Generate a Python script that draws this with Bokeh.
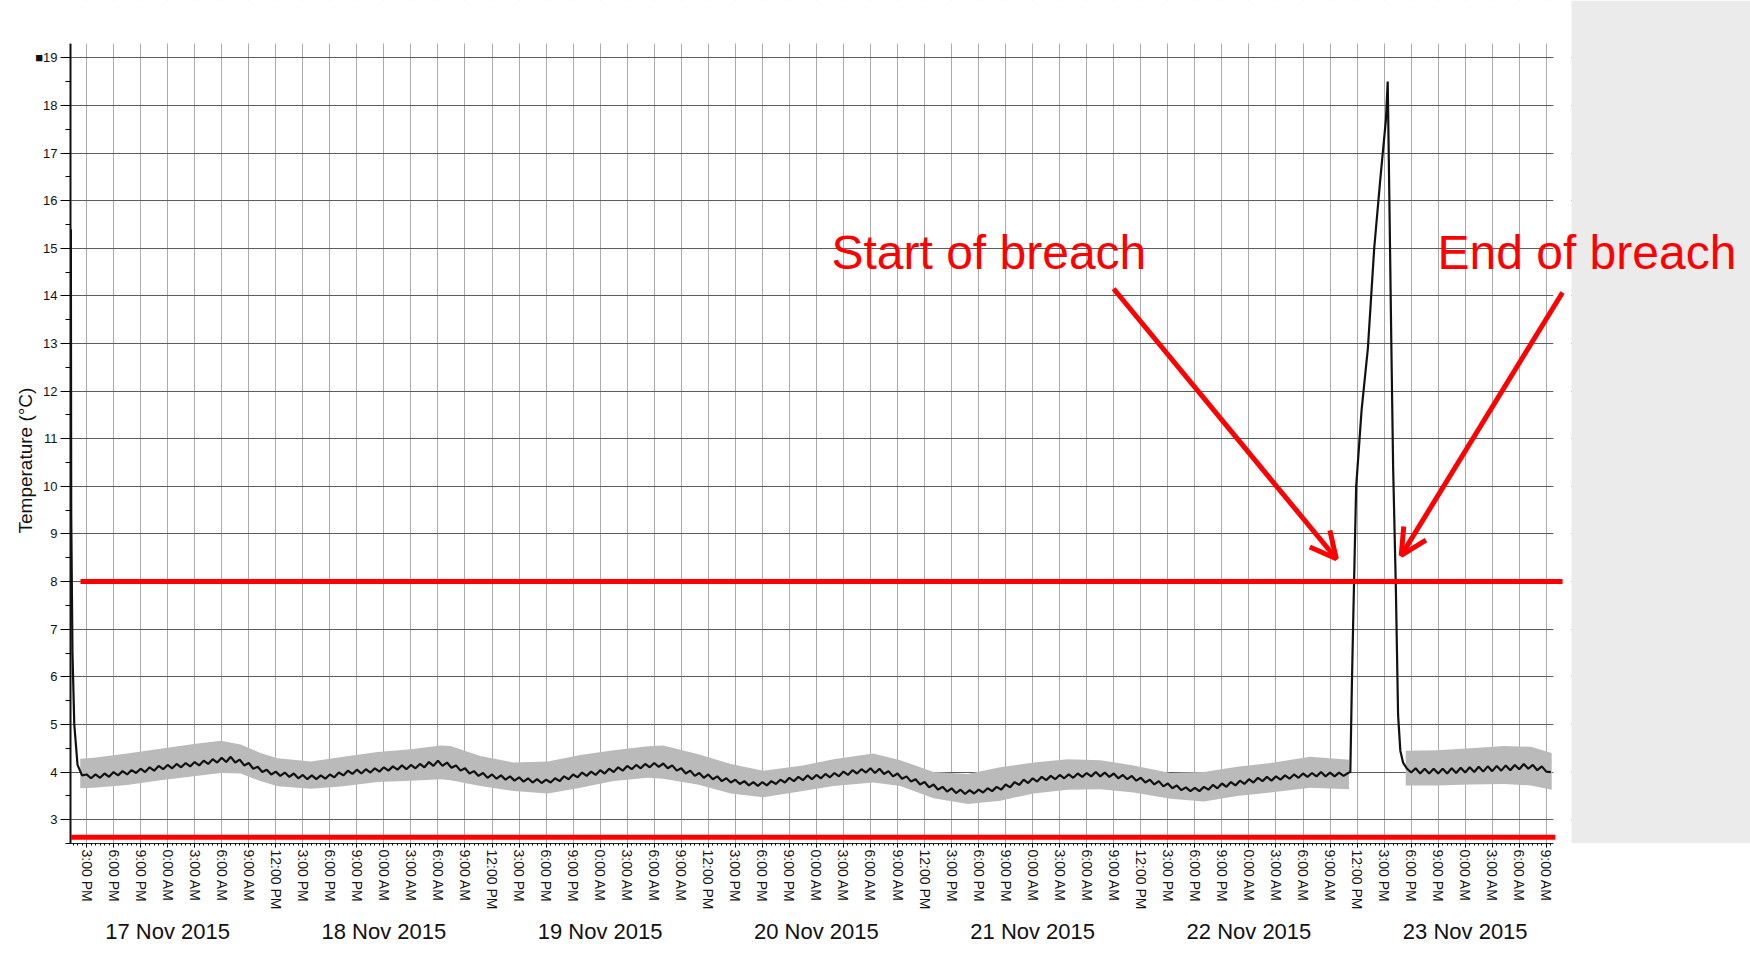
import numpy as np
from bokeh.plotting import figure
from bokeh.models import (FixedTicker, LinearAxis, Range1d, Arrow, OpenHead, Label,
                          BoxAnnotation, Title)
from bokeh.embed import file_html
from bokeh.resources import INLINE

# x values are hours after 16 Nov 2015 15:00 (the first "3:00 PM" tick)
day_tick_labels = ["3:00 PM", "6:00 PM", "9:00 PM", "0:00 AM", "3:00 AM", "6:00 AM", "9:00 AM", "12:00 PM"]
date_labels = ["17 Nov 2015", "18 Nov 2015", "19 Nov 2015", "20 Nov 2015",
               "21 Nov 2015", "22 Nov 2015", "23 Nov 2015"]
y_ticks = list(range(3, 20))

# start of logging: probe cools down
start_times = [-1.74, -1.70, -1.56, -1.36, -1.0, -0.5]
start_temps = [15.4, 9.4, 6.5, 5.0, 4.15, 3.93]

# half-hourly readings from t = 0 h to t = 140 h
logged_temps = [
    3.95, 3.87, 3.95, 3.88, 3.97, 3.90, 4.00, 3.93, 4.02, 3.95, 4.04, 3.98, 4.07, 4.00, 4.10, 4.03, 4.13, 4.06, 4.15, 4.08, 4.17, 4.10, 4.19, 4.12,
    4.21, 4.14, 4.24, 4.17, 4.27, 4.20, 4.30, 4.21, 4.32, 4.20, 4.26, 4.14, 4.19, 4.07, 4.11, 4.00, 4.05, 3.95, 4.01, 3.92, 3.99, 3.90, 3.97, 3.87,
    3.94, 3.85, 3.93, 3.85, 3.93, 3.86, 3.95, 3.89, 3.99, 3.93, 4.03, 3.96, 4.05, 3.97, 4.06, 3.99, 4.08, 4.01, 4.10, 4.03, 4.12, 4.05, 4.14, 4.06,
    4.15, 4.08, 4.17, 4.10, 4.21, 4.13, 4.24, 4.13, 4.20, 4.09, 4.14, 4.03, 4.08, 3.97, 4.02, 3.92, 3.98, 3.88, 3.95, 3.86, 3.93, 3.84, 3.91, 3.82,
    3.89, 3.80, 3.87, 3.78, 3.85, 3.77, 3.84, 3.78, 3.87, 3.81, 3.91, 3.85, 3.95, 3.89, 3.99, 3.92, 4.01, 3.94, 4.04, 3.97, 4.07, 4.00, 4.10, 4.03,
    4.13, 4.06, 4.15, 4.08, 4.17, 4.10, 4.19, 4.11, 4.18, 4.08, 4.14, 4.03, 4.08, 3.97, 4.03, 3.92, 3.98, 3.88, 3.95, 3.85, 3.91, 3.81, 3.87, 3.78,
    3.84, 3.75, 3.81, 3.72, 3.79, 3.71, 3.79, 3.72, 3.81, 3.75, 3.84, 3.78, 3.88, 3.81, 3.90, 3.83, 3.93, 3.85, 3.94, 3.87, 3.96, 3.89, 3.98, 3.91,
    4.01, 3.94, 4.04, 3.97, 4.06, 3.99, 4.08, 3.98, 4.07, 3.96, 4.02, 3.91, 3.97, 3.86, 3.91, 3.80, 3.85, 3.74, 3.79, 3.68, 3.74, 3.63, 3.69, 3.59,
    3.66, 3.56, 3.63, 3.54, 3.62, 3.55, 3.63, 3.57, 3.66, 3.60, 3.69, 3.63, 3.74, 3.68, 3.79, 3.73, 3.84, 3.77, 3.87, 3.80, 3.90, 3.83, 3.92, 3.85,
    3.94, 3.87, 3.95, 3.88, 3.97, 3.90, 3.98, 3.91, 4.00, 3.91, 3.99, 3.90, 3.97, 3.87, 3.94, 3.85, 3.92, 3.82, 3.88, 3.78, 3.84, 3.74, 3.81, 3.70,
    3.76, 3.66, 3.72, 3.62, 3.68, 3.60, 3.67, 3.60, 3.69, 3.63, 3.73, 3.66, 3.76, 3.69, 3.79, 3.72, 3.82, 3.75, 3.85, 3.78, 3.88, 3.81, 3.90, 3.82,
    3.91, 3.84, 3.93, 3.86, 3.95, 3.88, 3.97, 3.90, 3.98, 3.91, 4.00, 3.91, 3.99, 3.91, 3.99, 3.92, 3.98,
]

# the breach
spike_times = [140.25, 140.4, 140.55, 140.7, 140.9, 141.5, 142.2, 142.9, 143.6, 144.2, 144.4,
               144.6, 144.8, 145.0, 145.3, 145.55, 145.8, 146.1]
spike_temps = [4.0, 5.6, 7.0, 8.3, 10.0, 11.6, 12.9, 15.0, 16.5, 17.7, 18.5,
               15.8, 13.0, 10.4, 7.9, 5.2, 4.45, 4.2]

# half-hourly readings from t = 146.5 h to t = 162.5 h
after_temps = [4.08, 3.99, 4.08, 3.97, 4.07, 3.97, 4.07, 3.97, 4.07, 3.97, 4.08, 3.98, 4.09, 3.99,
               4.10, 4.00, 4.11, 4.01, 4.12, 4.02, 4.13, 4.03, 4.14, 4.04, 4.15, 4.06, 4.17, 4.07,
               4.15, 4.04, 4.12, 4.01, 4.00]

# min / max envelope (grey band)
band1_t = [-0.7, 0.8, 4.5, 8.2, 11.9, 14.9, 17.1, 19.3, 21.2, 24.9, 28.5, 32.3, 36.0, 39.3, 40.4,
           43.7, 47.4, 51.2, 54.8, 58.5, 62.3, 64.0, 67.8, 71.5, 75.1, 79.5, 82.9, 87.3, 90.3, 94.0,
           97.8, 101.4, 105.1, 108.9, 112.5, 116.2, 120.3, 124.0, 127.7, 131.4, 135.8, 140.1]
band1_hi = [4.28, 4.30, 4.39, 4.49, 4.59, 4.66, 4.58, 4.40, 4.29, 4.22, 4.32, 4.42, 4.48, 4.56, 4.55,
            4.34, 4.20, 4.22, 4.36, 4.46, 4.54, 4.56, 4.38, 4.17, 4.03, 4.14, 4.27, 4.39, 4.25, 4.00,
            3.96, 4.10, 4.20, 4.27, 4.25, 4.14, 3.98, 4.00, 4.11, 4.19, 4.32, 4.26]
band1_lo = [3.66, 3.67, 3.73, 3.83, 3.91, 3.98, 3.97, 3.81, 3.70, 3.65, 3.70, 3.79, 3.82, 3.85, 3.83,
            3.71, 3.60, 3.55, 3.67, 3.81, 3.88, 3.86, 3.74, 3.55, 3.47, 3.60, 3.71, 3.78, 3.71, 3.45,
            3.33, 3.40, 3.55, 3.63, 3.64, 3.57, 3.44, 3.38, 3.50, 3.57, 3.67, 3.64]
band2_t = [146.4, 149.9, 153.6, 157.3, 160.3, 162.6]
band2_hi = [4.45, 4.46, 4.50, 4.55, 4.53, 4.40]
band2_lo = [3.72, 3.72, 3.74, 3.75, 3.72, 3.63]

limit_upper = 8.0
limit_lower = 2.63

FONT = "Liberation Sans"
RED = "#ff0000"

line_t = (start_times + [0.5 * i for i in range(len(logged_temps))] + spike_times
          + [146.5 + 0.5 * i for i in range(len(after_temps))])
line_v = start_temps + logged_temps + spike_temps + after_temps

W, H = 1750, 964
x0 = -1.78            # left edge of chart
x_chart_end = 162.78  # right edge of the chart's grid
x_paper_end = 164.79  # right edge of the white paper
x1 = 184.66           # right edge of the canvas
y0, y_chart_top, y1 = 2.5, 19.3, 20.203
p = figure(width=W, height=H, x_range=Range1d(x0, x1), y_range=Range1d(y0, y1),
           output_backend="svg", toolbar_location=None,
           min_border_left=70, min_border_right=0, min_border_top=0, min_border_bottom=121,
           background_fill_color="white", border_fill_color="white", outline_line_color=None)

# paper margins and grey page area on the right
p.add_layout(BoxAnnotation(left=x0 - 5, right=x_paper_end, bottom=y_chart_top, fill_color="white",
                           fill_alpha=1, line_color=None, level="guide"))
p.add_layout(BoxAnnotation(left=x_chart_end, right=x_paper_end, fill_color="white", fill_alpha=1,
                           line_color=None, level="guide"))
p.add_layout(BoxAnnotation(left=x_paper_end, right=x1 + 5, fill_color="#ebebeb", fill_alpha=1,
                           line_color=None, level="guide"))

p.varea(x=band1_t, y1=band1_lo, y2=band1_hi, fill_color="#bababa", fill_alpha=1)
p.varea(x=band2_t, y1=band2_lo, y2=band2_hi, fill_color="#bababa", fill_alpha=1)
p.line(x=line_t, y=line_v, line_color="#111111", line_width=2.2)

# x axis: hours
hour_ticks = [3 * i for i in range(55)]
hour_labels = (day_tick_labels * 7)[:55]
xa = p.xaxis[0]
xa.bounds = (x0, x_chart_end)
xa.ticker = FixedTicker(ticks=hour_ticks, minor_ticks=[0.5 * i for i in range(-3, 326)])
xa.major_label_overrides = {t: lab for t, lab in zip(hour_ticks, hour_labels)}
xa.major_label_orientation = "vertical"
xa.major_label_text_font = FONT
xa.major_label_text_font_size = "14px"
xa.major_label_text_color = "#111111"
xa.major_label_standoff = 2
xa.major_tick_out = 4
xa.major_tick_in = 0
xa.minor_tick_out = 2
xa.minor_tick_in = 0
xa.axis_line_color = "#222222"

# date row
date_ticks = [9 + 24 * i for i in range(len(date_labels))]
date_axis = LinearAxis(ticker=FixedTicker(ticks=date_ticks),
                       major_label_overrides={t: lab for t, lab in zip(date_ticks, date_labels)},
                       major_tick_line_color=None, minor_tick_line_color=None, axis_line_color=None,
                       major_label_text_font=FONT, major_label_text_font_size="22px",
                       major_label_text_color="#111111", major_label_standoff=0)
p.add_layout(date_axis, "below")

# y axis
ya = p.yaxis[0]
ya.bounds = (y0, y_chart_top)
ya.ticker = FixedTicker(ticks=y_ticks, minor_ticks=[2.5 + 0.5 * i for i in range(34)])
ya.major_label_overrides = {19: "\u25a019"}
ya.major_label_text_font = FONT
ya.major_label_text_font_size = "13px"
ya.major_label_text_color = "#111111"
ya.major_label_standoff = 3
ya.major_tick_out = 10
ya.major_tick_in = 0
ya.minor_tick_out = 5
ya.minor_tick_in = 0
ya.axis_line_color = "#111111"
ya.axis_line_width = 2

# y axis title, placed along the chart part of the axis
p.add_layout(Title(text="Temperature (°C)", align="left", offset=310, standoff=-7,
                   text_font=FONT, text_font_size="19px", text_font_style="normal",
                   text_color="#111111"), "left")

p.xgrid.grid_line_color = "#ababab"
p.xgrid.grid_line_width = 1
p.ygrid.grid_line_color = "#5c5c5c"
p.ygrid.grid_line_width = 1

# limit lines
p.add_layout(Arrow(end=None, x_start=-0.67, y_start=limit_upper, x_end=163.8, y_end=limit_upper,
                   line_color=RED, line_width=5))
p.add_layout(Arrow(end=None, x_start=x0, y_start=limit_lower, x_end=163.0, y_end=limit_lower,
                   line_color=RED, line_width=5))

# annotations
p.add_layout(Arrow(end=OpenHead(size=26, line_color=RED, line_width=5),
                   x_start=113.98, y_start=14.15, x_end=138.7, y_end=8.48,
                   line_color=RED, line_width=5))
p.add_layout(Arrow(end=OpenHead(size=26, line_color=RED, line_width=5),
                   x_start=163.8, y_start=14.07, x_end=145.9, y_end=8.55,
                   line_color=RED, line_width=5))
p.add_layout(Label(x=82.67, y=14.92, text="Start of breach", text_color=RED,
                   text_font=FONT, text_font_size="48px", text_baseline="middle"))
p.add_layout(Label(x=149.92, y=14.92, text="End of breach", text_color=RED,
                   text_font=FONT, text_font_size="48px", text_baseline="middle"))

html = file_html(p, INLINE)
open("out.html", "w").write(html)
